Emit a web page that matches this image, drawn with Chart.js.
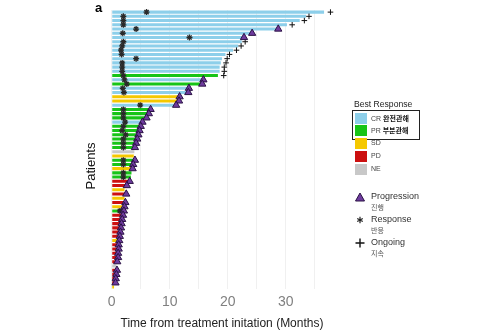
<!DOCTYPE html>
<html>
<head>
<meta charset="utf-8">
<script src="https://cdn.jsdelivr.net/npm/chart.js@4.4.1/dist/chart.umd.min.js"></script>
<style>
  body { margin: 0; background: #fff; font-family: "Liberation Sans", Arial, sans-serif; }
  #wrap { position: relative; width: 500px; height: 334px; }
  #chart { position: absolute; left: 0; top: 0; }
  .txt { position: absolute; white-space: nowrap; }
  .kr { font-family: "Noto Sans CJK KR", sans-serif; }
  .sw { position: absolute; width: 12px; height: 11px; }
</style>
</head>
<body>
<div id="wrap">
  <canvas id="chart" width="500" height="334"></canvas>
  <div class="txt" style="left:95px;top:0px;font-size:13px;font-weight:bold;">a</div>
  <div class="txt" style="left:90px;top:166px;font-size:13px;color:#111;transform:translate(-50%,-50%) rotate(-90deg);">Patients</div>
  <div class="txt" style="left:222px;top:323px;font-size:12px;color:#222;transform:translate(-50%,-50%);">Time from treatment initation (Months)</div>

  <div class="txt" style="left:354px;top:99px;font-size:8.6px;color:#222;">Best Response</div>
  <div style="position:absolute;left:352px;top:110px;width:66px;height:28px;border:1px solid #222;"></div>
  <div class="sw" style="left:355px;top:113px;background:#8DCFEA;"></div>
  <div class="sw" style="left:355px;top:125px;background:#17C417;"></div>
  <div class="sw" style="left:355px;top:138px;background:#F5C800;"></div>
  <div class="sw" style="left:355px;top:151px;background:#CC1010;"></div>
  <div class="sw" style="left:355px;top:164px;background:#C8C8C8;"></div>
  <div class="txt" style="left:371px;top:113px;font-size:7px;color:#444;">CR <b class="kr" style="color:#111;">완전관해</b></div>
  <div class="txt" style="left:371px;top:125px;font-size:7px;color:#444;">PR <b class="kr" style="color:#111;">부분관해</b></div>
  <div class="txt" style="left:371px;top:139px;font-size:7px;color:#444;">SD</div>
  <div class="txt" style="left:371px;top:152px;font-size:7px;color:#444;">PD</div>
  <div class="txt" style="left:371px;top:165px;font-size:7px;color:#444;">NE</div>

  <canvas id="keys" width="20" height="70" style="position:absolute;left:350px;top:188px;"></canvas>
  <div class="txt" style="left:371px;top:191px;font-size:9px;color:#333;">Progression</div>
  <div class="txt kr" style="left:371px;top:202px;font-size:7px;color:#555;">진행</div>
  <div class="txt" style="left:371px;top:214px;font-size:9px;color:#333;">Response</div>
  <div class="txt kr" style="left:371px;top:225px;font-size:7px;color:#555;">반응</div>
  <div class="txt" style="left:371px;top:237px;font-size:9px;color:#333;">Ongoing</div>
  <div class="txt kr" style="left:371px;top:248px;font-size:7px;color:#555;">지속</div>
</div>
<script>
// one entry per patient, top to bottom
const bestResponse = [
  'CR','CR','CR','CR','CR','CR','CR','CR','CR','CR',
  'CR','CR','CR','CR','CR','PR','CR','PR','CR','CR',
  'SD','SD','CR','PR','PR','PR','CR','PR','PR','PR',
  'PR','PR','PR','NE','SD','PR','PR','SD','PR','PR',
  'PD','PD','SD','PD','SD','PD','SD','PR','PD','PD',
  'PD','PD','PD','PD','SD','PD','PD','PD','PD','PD',
  'NE','PD','PD','PD','PD','SD'
];
const duration = [
  36.6, 33.5, 32.4, 30.2, 28.7, 24.2, 22.8, 22.4, 21.8, 20.9,
  19.6, 19.0, 18.8, 18.6, 18.6, 18.3, 15.7, 15.5, 13.3, 13.2,
  11.7, 11.6, 11.1, 6.7, 6.4, 6.0, 5.3, 5.0, 4.8, 4.6,
  4.4, 4.2, 4.0, 3.9, 3.8, 4.0, 3.7, 3.6, 3.4, 3.3,
  3.1, 2.6, 2.2, 2.5, 2.2, 2.35, 2.2, 2.1, 1.95, 1.8,
  1.7, 1.6, 1.5, 1.4, 1.3, 1.2, 1.2, 1.1, 1.1, 0.95,
  0.8, 0.9, 0.8, 0.7, 0.65, 0.4
];
const responseAt = [
  6.0, 2.0, 2.0, 2.0, 4.2, 1.9, 13.4, 2.0, 1.8, 1.6,
  1.7, 4.2, 1.8, 1.8, 1.8, 2.0, 2.2, 2.6, 1.9, 2.1,
  null, null, 4.9, 2.0, 2.0, 2.0, 2.3, 2.0, 1.8, 2.4,
  2.0, 2.0, 2.0, null, null, 2.0, 2.0, null, 2.0, 2.0,
  null, null, null, null, null, null, null, 1.4, null, null,
  null, null, null, null, null, null, null, null, null, null,
  null, null, null, null, null, null
];
const progressionAt = [
  null, null, null, null, 28.7, 24.2, 22.8, null, null, null,
  null, null, null, null, null, null, 15.8, 15.6, 13.3, 13.2,
  11.7, 11.6, 11.1, 6.7, 6.4, 6.0, 5.3, 5.0, 4.8, 4.6,
  4.4, 4.2, 4.0, null, null, 4.0, 3.7, 3.6, null, null,
  3.1, 2.6, null, 2.5, null, 2.35, 2.2, 2.1, 1.95, 1.8,
  1.7, 1.6, 1.5, 1.4, 1.3, 1.2, 1.2, 1.1, 1.1, 0.95,
  null, 0.9, 0.8, 0.7, 0.65, null
];
const ongoingAt = [
  37.7, 34.0, 33.2, 31.1, null, null, null, 23.0, 22.3, 21.5,
  20.3, 19.9, 19.7, 19.4, 19.4, 19.3, null, null, null, null
];
const gridTicks = [0, 5, 10, 15, 20, 25, 30, 35];
const xTicks = [0, 10, 20, 30];

const responseColors = { CR: '#8DCFEA', PR: '#17C417', SD: '#F5C800', PD: '#CC1010', NE: '#C8C8C8' };
const patients = duration.map((_, i) => 'P' + (i + 1));

function points(arr) {
  const out = [];
  arr.forEach((v, i) => { if (v != null) out.push({ x: v, y: patients[i] }); });
  return out;
}

const marker = {
  type: 'line', showLine: false, indexAxis: 'y', order: 0
};

new Chart(document.getElementById('chart'), {
  type: 'bar',
  data: {
    labels: patients,
    datasets: [
      { ...marker, label: 'Progression', data: points(progressionAt), pointStyle: 'triangle',
        pointRadius: 4.2, backgroundColor: '#6E3B9E', borderColor: '#2B1245', borderWidth: 1 },
      { ...marker, label: 'Response', data: points(responseAt), pointStyle: 'star',
        pointRadius: 3, borderColor: '#2a2a2a', borderWidth: 1.3 },
      { ...marker, label: 'Ongoing', data: points(ongoingAt), pointStyle: 'cross',
        pointRadius: 2.8, borderColor: '#111', borderWidth: 1 },
      { label: 'Duration', data: duration, order: 10,
        backgroundColor: bestResponse.map(r => responseColors[r]),
        barPercentage: 0.72, categoryPercentage: 1 }
    ]
  },
  options: {
    indexAxis: 'y',
    responsive: false,
    animation: false,
    layout: { padding: { left: 110, right: 162, top: 10, bottom: 18 } },
    plugins: { legend: { display: false }, tooltip: { enabled: false } },
    scales: {
      y: { display: false },
      x: {
        min: -0.3, max: 39,
        border: { display: false },
        grid: { color: '#f0f0f0', drawTicks: false },
        afterBuildTicks: s => { s.ticks = gridTicks.map(v => ({ value: v })); },
        ticks: {
          padding: 5, color: '#808080',
          font: { family: 'Liberation Sans', size: 14 },
          callback: v => xTicks.includes(v) ? v : ''
        }
      }
    }
  }
});

// legend symbols
const k = document.getElementById('keys').getContext('2d');
k.fillStyle = '#6E3B9E'; k.strokeStyle = '#2B1245'; k.lineWidth = 1;
k.beginPath();
k.moveTo(10, 5); k.lineTo(14.5, 13); k.lineTo(5.5, 13); k.closePath();
k.fill(); k.stroke();
k.strokeStyle = '#222'; k.lineWidth = 1.2;
k.beginPath();
for (let a = 0; a < 3; a++) {
  const t = a * Math.PI / 3 + Math.PI / 2;
  k.moveTo(10 - 3.2 * Math.cos(t), 32 - 3.2 * Math.sin(t));
  k.lineTo(10 + 3.2 * Math.cos(t), 32 + 3.2 * Math.sin(t));
}
k.stroke();
k.strokeStyle = '#111'; k.lineWidth = 1.4;
k.beginPath();
k.moveTo(10, 50.5); k.lineTo(10, 59.5); k.moveTo(5.5, 55); k.lineTo(14.5, 55);
k.stroke();
</script>
</body>
</html>
